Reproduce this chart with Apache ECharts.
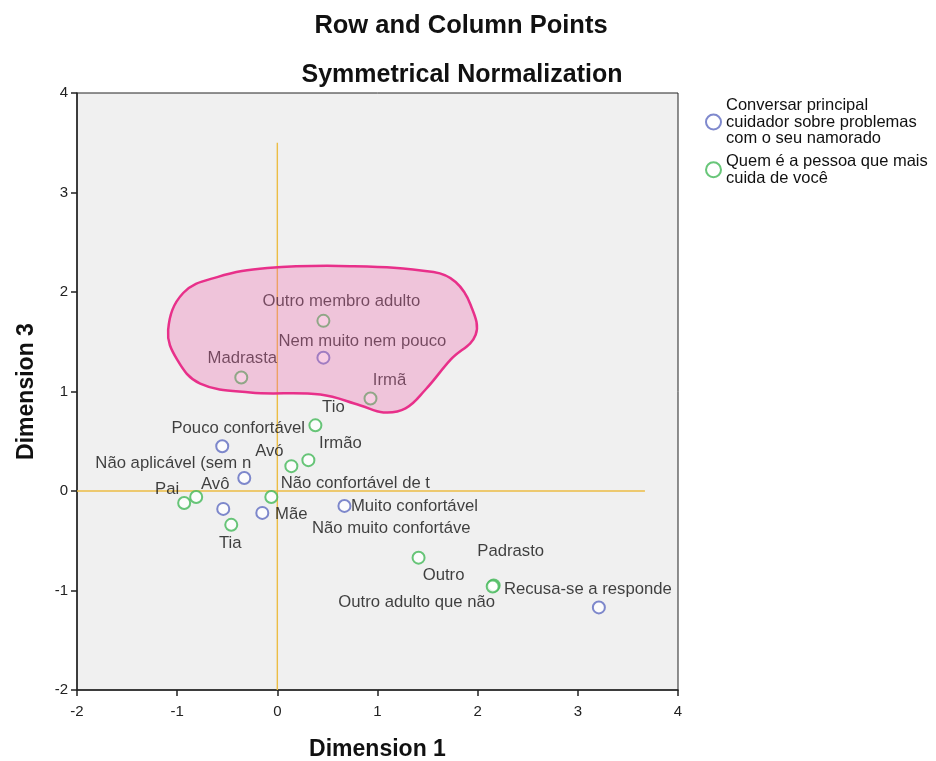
<!DOCTYPE html>
<html>
<head>
<meta charset="utf-8">
<script src="https://cdn.jsdelivr.net/npm/echarts@6/dist/echarts.min.js"></script>
<style>html,body{margin:0;padding:0;background:#fff}#c{width:936px;height:761px}</style>
</head>
<body>
<div id="c"></div>
<script>
// Row points: Conversar principal cuidador sobre problemas com o seu namorado
const rowNames = ['Pouco confortável','Não aplicável (sem n','Nem muito nem pouco','Muito confortável','Não confortável de t','Não muito confortáve','Recusa-se a responde'];
const rowX = [-0.55,-0.33,0.46,0.67,-0.15,-0.54,3.21];
const rowY = [0.45,0.13,1.34,-0.15,-0.22,-0.18,-1.17];
// Column points: Quem é a pessoa que mais cuida de você
const colNames = ['Outro membro adulto','Madrasta','Irmã','Tio','Irmão','Avó','Avô','Pai','Mãe','Tia','Outro','Padrasto','Outro adulto que não'];
const colX = [0.46,-0.36,0.93,0.38,0.31,0.14,-0.81,-0.93,-0.06,-0.46,1.41,2.16,2.15];
const colY = [1.71,1.14,0.93,0.66,0.31,0.25,-0.06,-0.12,-0.06,-0.34,-0.67,-0.95,-0.96];
const seriesNames = ['Conversar principal\ncuidador sobre problemas\ncom o seu namorado','Quem é a pessoa que mais\ncuida de você'];
const xTicks = [-2,-1,0,1,2,3,4];
const yTicks = [-2,-1,0,1,2,3,4];
// highlighted region outline (annotation), in data units
const blobX = [-1.09,-0.94,-0.60,-0.10,0.73,1.56,1.78,1.93,1.98,1.73,1.48,1.28,1.06,0.83,0.43,-0.27,-0.77,-1.00];
const blobY = [1.62,1.99,2.15,2.24,2.26,2.20,2.10,1.87,1.57,1.32,1.02,0.83,0.79,0.86,0.97,0.99,1.08,1.32];
// reference lines (annotation)
const refVX = [0, 0];
const refVY = [-2, 3.5];
const refHX = [-2, 3.67];
const refHY = [0, 0];

// label layout (pixel offsets of each label centre from its point)
const labelOffsets = {
  'Pouco confortável':[16,-18],'Não aplicável (sem n':[-71,-15],'Nem muito nem pouco':[39,-16],
  'Muito confortável':[70,0],'Não confortável de t':[93,-29],'Não muito confortáve':[168,19],
  'Recusa-se a responde':[-11,-18],
  'Outro membro adulto':[18,-19],'Madrasta':[1,-19],'Irmã':[19,-18],'Tio':[18,-18],'Irmão':[32,-17],
  'Avó':[-22,-15],'Avô':[19,-13],'Pai':[-17,-14],'Mãe':[20,17],'Tia':[-1,19],'Outro':[25,18],
  'Padrasto':[17,-34],'Outro adulto que não':[-76,16]
};
const FONT = 'Liberation Sans, Arial, sans-serif';
const REF = '#ecbd45';
function mk(names, xs, ys){
  return names.map((n,i)=>({name:n, value:[xs[i], ys[i]]}));
}
function layoutFor(names){
  return function(p){
    const o = labelOffsets[names[p.dataIndex]] || [0,-18];
    return {dx:o[0], dy:o[1]};
  };
}
const chart = echarts.init(document.getElementById('c'), null, {renderer:'canvas'});
const lbl = {show:true, position:'inside', formatter:'{b}', color:'#111', fontFamily:FONT, fontSize:16.7};
const option = {
  animation:false,
  backgroundColor:'#ffffff',
  textStyle:{fontFamily:FONT},
  title:[
    {text:'Row and Column Points', left:456, top:8, textAlign:'center', textStyle:{fontFamily:FONT, fontSize:25.5, fontWeight:'bold', color:'#111'}},
    {text:'Symmetrical Normalization', left:457, top:58, textAlign:'center', textStyle:{fontFamily:FONT, fontSize:25, fontWeight:'bold', color:'#111'}}
  ],
  legend:{
    orient:'vertical', left:700, top:92, itemWidth:15, itemHeight:15, itemGap:6,
    data:[{name:seriesNames[0], icon:'emptyCircle'},{name:seriesNames[1], icon:'emptyCircle'}],
    textStyle:{fontFamily:FONT, fontSize:16.5, lineHeight:16.5, color:'#111'},
    selectedMode:false
  },
  grid:{left:77, right:258, top:93, bottom:71, outerBoundsMode:'none', containLabel:false, show:true, backgroundColor:'#f0f0f0', borderColor:'#222', borderWidth:1},
  xAxis:{
    type:'value', min:-2, max:4, interval:1,
    name:'Dimension 1', nameLocation:'middle', nameGap:48,
    nameTextStyle:{fontFamily:FONT, fontSize:23, fontWeight:'bold', color:'#111'},
    axisLine:{show:true, onZero:false, lineStyle:{color:'#222', width:1.5}},
    axisTick:{show:true, length:6, lineStyle:{color:'#222', width:1.5}},
    axisLabel:{fontFamily:FONT, fontSize:15, color:'#222', margin:14, formatter:v=>xTicks.includes(v)?String(v):''},
    splitLine:{show:false}
  },
  yAxis:{
    type:'value', min:-2, max:4, interval:1,
    name:'Dimension 3', nameLocation:'middle', nameGap:39,
    nameTextStyle:{fontFamily:FONT, fontSize:23, fontWeight:'bold', color:'#111'},
    axisLine:{show:true, onZero:false, lineStyle:{color:'#222', width:1.5}},
    axisTick:{show:true, length:6, lineStyle:{color:'#222', width:1.5}},
    axisLabel:{fontFamily:FONT, fontSize:15, color:'#222', margin:9, formatter:v=>yTicks.includes(v)?String(v):''},
    splitLine:{show:false}
  },
  series:[
    {
      type:'line', z:1, silent:true, showSymbol:false, symbol:'none',
      lineStyle:{color:REF, width:1.4}, data:refVX.map((x,i)=>[x, refVY[i]])
    },
    {
      type:'line', z:1, silent:true, showSymbol:false, symbol:'none',
      lineStyle:{color:REF, width:1.4}, data:refHX.map((x,i)=>[x, refHY[i]])
    },
    {
      name:seriesNames[0], type:'scatter', z:2, symbol:'emptyCircle', symbolSize:12,
      itemStyle:{color:'#5f6cc0', borderWidth:1.6},
      label:lbl, labelLayout:layoutFor(rowNames),
      data:mk(rowNames,rowX,rowY)
    },
    {
      name:seriesNames[1], type:'scatter', z:2, symbol:'emptyCircle', symbolSize:12,
      itemStyle:{color:'#42b858', borderWidth:1.6},
      label:lbl, labelLayout:layoutFor(colNames),
      data:mk(colNames,colX,colY)
    },
    {
      type:'custom', z:5, silent:true, data:[[0,0]],
      renderItem:function(params, api){
        const pts = blobX.map((x,i)=>api.coord([x, blobY[i]]));
        return {type:'polygon', shape:{points:pts, smooth:0.4},
          style:{fill:'rgba(240,100,170,0.31)', stroke:'#e8308a', lineWidth:2.5}};
      }
    }
  ]
};
chart.setOption(option);
</script>
</body>
</html>
